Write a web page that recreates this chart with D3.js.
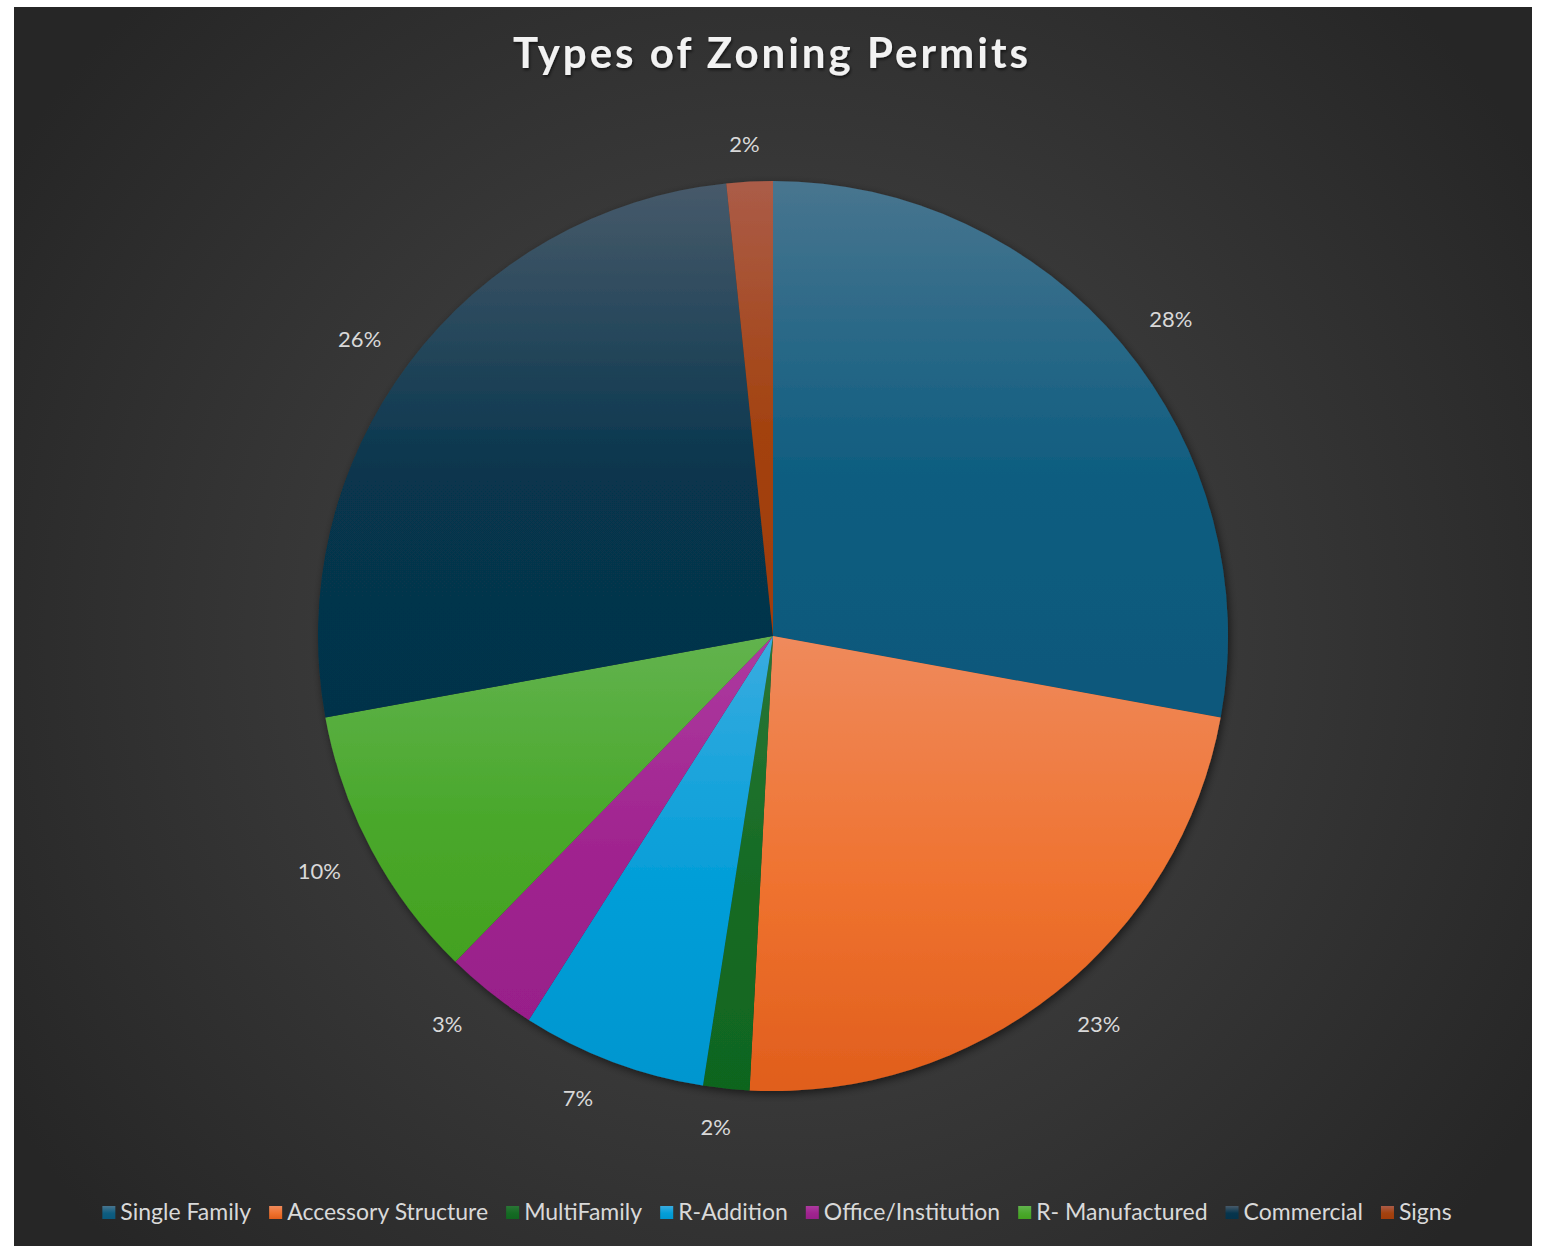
<!DOCTYPE html>
<html>
<head>
  <meta charset="utf-8">
  <title>Types of Zoning Permits</title>
  <script src="https://cdn.jsdelivr.net/npm/d3@7"></script>
  <style>
    body { margin: 0; background: #ffffff; }
    text { font-family: Lato, "Noto Sans", sans-serif; }
  </style>
</head>
<body>
  <svg width="1544" height="1246" id="mainsvg"></svg>
  <script>
    // data (counts, total 61)
    const categories = ['Single Family', 'Accessory Structure', 'MultiFamily', 'R-Addition',
      'Office/Institution', 'R- Manufactured', 'Commercial', 'Signs'];
    const counts = [17, 14, 1, 4, 2, 6, 16, 1];
    const title = 'Types of Zoning Permits';

    // slice colours: top tint, middle, bottom
    const topColors = ['#48758f', '#ef8a5c', '#2a7636', '#3aace0', '#ad3aa0', '#62b34e', '#475a6a', '#ab5c48'];
    const midColors = ['#0e5d80', '#ef722f', '#156b24', '#039ed8', '#a0248f', '#4aa82c', '#07354d', '#a3420f'];
    const botColors = ['#0a587b', '#e05e1c', '#10651f', '#0096cf', '#981f8a', '#43a120', '#05334a', '#a03c0a'];

    const svg = d3.select('#mainsvg');
    const width = +svg.attr('width');
    const height = +svg.attr('height');
    const cx = 773, cy = 636, radius = 455;

    const defs = svg.append('defs');
    const bg = defs.append('radialGradient').attr('id', 'bg')
      .attr('gradientUnits', 'userSpaceOnUse')
      .attr('cx', cx).attr('cy', cy).attr('r', 900);
    bg.append('stop').attr('offset', '0%').attr('stop-color', '#4a4a4a');
    bg.append('stop').attr('offset', '100%').attr('stop-color', '#262626');

    categories.forEach((c, i) => {
      const g = defs.append('linearGradient').attr('id', 'sl' + i)
        .attr('x1', 0).attr('y1', 0).attr('x2', 0).attr('y2', 1);
      g.append('stop').attr('offset', '0%').attr('stop-color', topColors[i]);
      g.append('stop').attr('offset', '55%').attr('stop-color', midColors[i]);
      g.append('stop').attr('offset', '100%').attr('stop-color', botColors[i]);
    });

    const shadow = defs.append('filter').attr('id', 'shadow')
      .attr('x', '-10%').attr('y', '-10%').attr('width', '120%').attr('height', '120%');
    shadow.append('feDropShadow').attr('dx', 2).attr('dy', 3).attr('stdDeviation', 4)
      .attr('flood-color', '#000').attr('flood-opacity', 0.55);

    const tshadow = defs.append('filter').attr('id', 'tshadow');
    tshadow.append('feDropShadow').attr('dx', 1).attr('dy', 2).attr('stdDeviation', 1.5)
      .attr('flood-color', '#000').attr('flood-opacity', 0.6);

    // chart area background
    svg.append('rect')
      .attr('x', 14).attr('y', 7)
      .attr('width', 1532 - 14).attr('height', height - 7)
      .attr('fill', 'url(#bg)');

    // title
    svg.append('text')
      .attr('x', 772).attr('y', 68)
      .attr('text-anchor', 'middle')
      .attr('font-size', 42).attr('font-weight', 'bold')
      .attr('letter-spacing', 3)
      .attr('fill', '#f2f2f2')
      .attr('filter', 'url(#tshadow)')
      .text(title);

    // pie
    const total = d3.sum(counts);
    const pie = d3.pie().sort(null).value(d => d);
    const arcs = pie(counts);
    const arc = d3.arc().innerRadius(0).outerRadius(radius);

    const g = svg.append('g').attr('transform', `translate(${cx}, ${cy})`);
    g.append('g').attr('filter', 'url(#shadow)')
      .selectAll('path').data(arcs).join('path')
      .attr('d', arc)
      .attr('fill', (d, i) => `url(#sl${i})`);

    // percentage labels, outside end
    const fmt = d3.format('.0%');
    g.selectAll('text.lbl').data(arcs).join('text')
      .attr('class', 'lbl')
      .each(function (d) {
        const a = (d.startAngle + d.endAngle) / 2;
        const dx = Math.sin(a), dy = -Math.cos(a);
        const r = radius + 33;
        const x = r * dx + 23 * Math.max(-1, Math.min(1, dx * 3));
        const y = r * dy + 5 * Math.sign(dy);
        d3.select(this).attr('x', x).attr('y', y);
      })
      .attr('text-anchor', 'middle')
      .attr('dominant-baseline', 'central')
      .attr('font-size', 22)
      .attr('fill', '#d9d9d9')
      .text(d => fmt(d.value / total));

    // legend
    const legend = svg.append('g');
    const items = legend.selectAll('g').data(categories).join('g');
    items.append('rect')
      .attr('width', 13).attr('height', 13)
      .attr('y', -14)
      .attr('fill', (d, i) => `url(#sl${i})`);
    items.append('text')
      .attr('x', 18)
      .attr('font-size', 23)
      .attr('fill', '#d9d9d9')
      .text(d => d);
    let xpos = 0;
    const gap = 18;
    items.each(function () {
      const w = this.getBBox().width;
      d3.select(this).attr('transform', `translate(${xpos}, 0)`);
      xpos += w + gap;
    });
    const legendWidth = xpos - gap;
    legend.attr('transform', `translate(${777 - legendWidth / 2}, 1220)`);
  </script>
</body>
</html>
